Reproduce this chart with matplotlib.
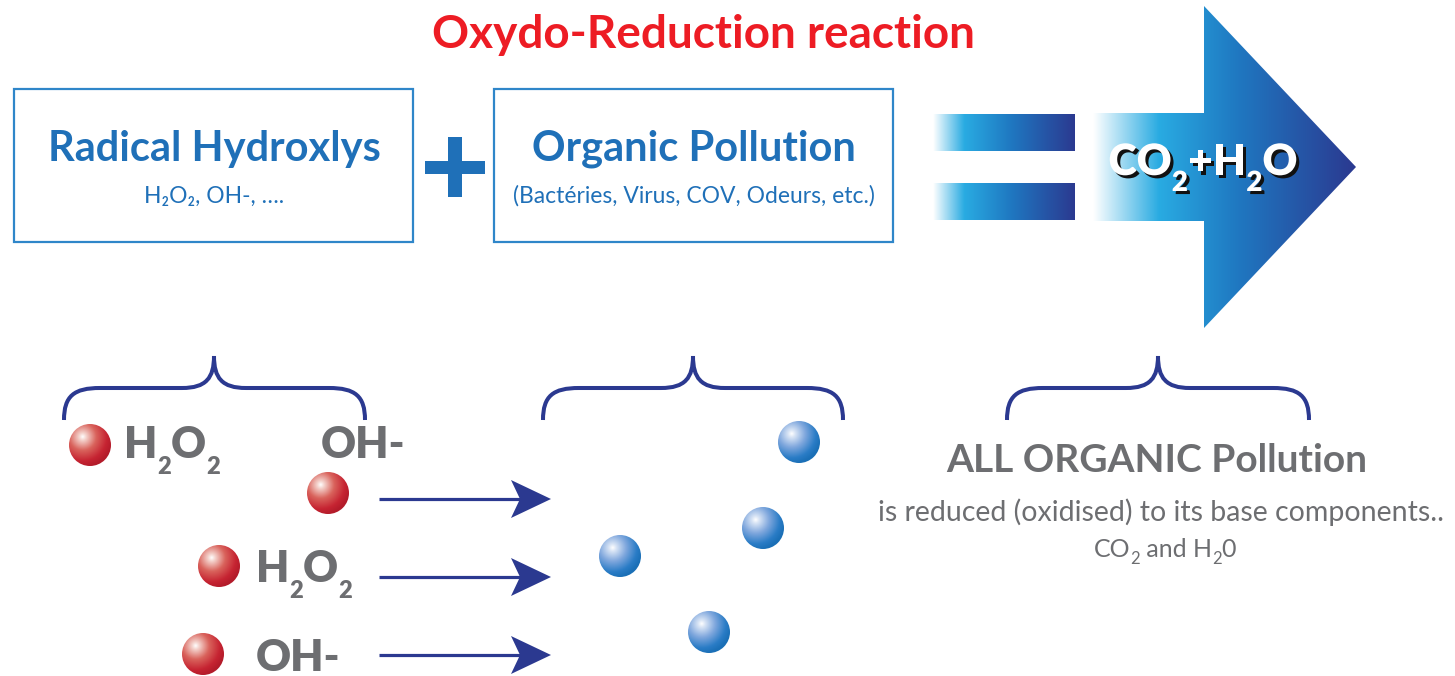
import numpy as np
import matplotlib
matplotlib.use("Agg")
import matplotlib.pyplot as plt
import matplotlib.patheffects as pe
from matplotlib.patches import Polygon, Rectangle, Circle, PathPatch
from matplotlib.path import Path
from matplotlib.colors import LinearSegmentedColormap, to_rgb

plt.rcParams['font.family'] = ['Lato', 'DejaVu Sans']

# Тексты схемы
title = "Oxydo-Reduction reaction"
box_titles = ["Radical Hydroxlys", "Organic Pollution"]
box_subtitles = ["H₂O₂, OH-, ….", "(Bactéries, Virus, COV, Odeurs, etc.)"]
product = [("CO", 0), ("2", 1), ("+H", 0), ("2", 1), ("O", 0)]
h2o2 = [("H", 0), ("2", 1), ("O", 0), ("2", 1)]
oh = [("OH-", 0)]
result_title = "ALL ORGANIC Pollution"
result_line = "is reduced (oxidised) to its base components.."
result_formula = [("CO", 0), ("2", 1), (" and H", 0), ("2", 1), ("0", 0)]

# Молекулы (центры шариков)
red_spheres = [(90, 445), (328, 493), (219, 566), (203, 654)]
blue_spheres = [(799, 442), (763, 528), (620, 556), (709, 632)]
arrow_rows = [499, 577, 655]
brace_spans = [(64, 214, 365), (543, 693, 843), (1007, 1158, 1309)]

RED = "#ED1C24"
BLUE = "#1F70B8"
BOX_EDGE = "#2F86C9"
NAVY = "#2B3990"
GRAY = "#6D6E71"

fig = plt.figure(figsize=(14.55, 6.76), dpi=100)
ax = fig.add_axes([0, 0, 1, 1])
ax.set_xlim(0, 1455)
ax.set_ylim(676, 0)
ax.axis('off')
renderer = fig.canvas.get_renderer()


def chem_text(x, y, parts, size, sub_size, drop, color, weight='bold', ha='left', effects=None):
    """Текст с подстрочными индексами, y - базовая линия"""
    items = []
    total = 0
    for s, sub in parts:
        t = ax.text(0, y + (drop if sub else 0), s, fontsize=sub_size if sub else size,
                    color=color, fontweight=weight, va='baseline', ha='left', zorder=4)
        if effects:
            t.set_path_effects(effects)
        w = t.get_window_extent(renderer).width
        items.append((t, w))
        total += w
    x0 = x - total / 2 if ha == 'center' else x
    for t, w in items:
        t.set_x(x0)
        x0 += w
    return total


def gradient_shape(verts, x0, x1, stops):
    poly = Polygon(verts, closed=True, facecolor='none', edgecolor='none')
    ax.add_patch(poly)
    cmap = LinearSegmentedColormap.from_list('g', stops)
    ys = [v[1] for v in verts]
    g = np.linspace(0, 1, 512).reshape(1, -1)
    im = ax.imshow(g, cmap=cmap, extent=(x0, x1, max(ys), min(ys)), aspect='auto',
                   interpolation='bilinear', zorder=2)
    im.set_clip_path(poly)


def sphere(cx, cy, r, stops):
    n = 120
    yy, xx = np.mgrid[-1:1:n * 1j, -1:1:n * 1j]
    d = np.hypot(xx + 0.35, yy + 0.4) / 1.45
    d = np.clip(d, 0, 1)
    pos = np.array([p for p, _ in stops])
    cols = np.array([to_rgb(c) for _, c in stops])
    img = np.stack([np.interp(d, pos, cols[:, k]) for k in range(3)], axis=-1)
    im = ax.imshow(img, extent=(cx - r, cx + r, cy + r, cy - r), origin='upper',
                   interpolation='bilinear', zorder=3)
    circ = Circle((cx, cy), r, transform=ax.transData, facecolor='none', edgecolor='none')
    ax.add_patch(circ)
    im.set_clip_path(circ)


def brace(x0, xc, x1, y_end=420, y_bar=388, y_tip=356):
    verts = [(x0, y_end), (x0, y_bar + 8), (x0 + 10, y_bar), (x0 + 36, y_bar),
             (xc - 32, y_bar), (xc - 8, y_bar), (xc, y_bar - 10), (xc, y_tip),
             (xc, y_bar - 10), (xc + 8, y_bar), (xc + 32, y_bar),
             (x1 - 36, y_bar), (x1 - 10, y_bar), (x1, y_bar + 8), (x1, y_end)]
    codes = [Path.MOVETO, Path.CURVE4, Path.CURVE4, Path.CURVE4,
             Path.LINETO, Path.CURVE4, Path.CURVE4, Path.CURVE4,
             Path.CURVE4, Path.CURVE4, Path.CURVE4,
             Path.LINETO, Path.CURVE4, Path.CURVE4, Path.CURVE4]
    ax.add_patch(PathPatch(Path(verts, codes), facecolor='none', edgecolor=NAVY,
                           lw=2.9, capstyle='butt', zorder=3))


# Заголовок
ax.text(703, 48, title, color=RED, fontsize=33, fontweight='bold', ha='center', va='baseline')

# Рамки
for bx, tt, st in zip([14, 494], box_titles, box_subtitles):
    ax.add_patch(Rectangle((bx, 89), 399, 153, facecolor='none', edgecolor=BOX_EDGE, lw=1.6))
    ax.text(bx + 200, 161, tt, color=BLUE, fontsize=30, fontweight='bold', ha='center', va='baseline')
    ax.text(bx + 200, 203, st, color=BLUE, fontsize=16.5, ha='center', va='baseline')

# Плюс
ax.add_patch(Rectangle((425, 161), 60, 13, color=BLUE, lw=0))
ax.add_patch(Rectangle((448, 137), 14, 60, color=BLUE, lw=0))

# Знак равенства и стрелка
eq_stops = [(0, "#FFFFFF"), (0.22, "#29ABE2"), (0.55, "#1F78C1"), (1, NAVY)]
for y0, y1 in [(114, 151), (183, 220)]:
    gradient_shape([(933, y0), (1075, y0), (1075, y1), (933, y1)], 933, 1075, eq_stops)

arrow_stops = [(0, "#FFFFFF"), (0.25, "#29ABE2"), (0.55, "#1F78C1"), (1, NAVY)]
gradient_shape([(1093, 113), (1204, 113), (1204, 6), (1356, 167), (1204, 328),
                (1204, 221), (1093, 221)], 1093, 1356, arrow_stops)

shadow = [pe.SimplePatchShadow(offset=(2.2, -2.2), shadow_rgbFace='#111111', alpha=1.0), pe.Normal()]
chem_text(1203, 175, product, 31, 20, 16, "white", weight='heavy', ha='center', effects=shadow)

# Фигурные скобки
for x0, xc, x1 in brace_spans:
    brace(x0, xc, x1)

# Молекулы
red_stops = [(0, "#FFFFFF"), (0.12, "#F4D2CC"), (0.45, "#D9635C"), (0.8, "#C62432"), (1, "#B31B2A")]
blue_stops = [(0, "#FFFFFF"), (0.12, "#D8E4F5"), (0.45, "#7FA7DD"), (0.8, "#2A7CC6"), (1, "#1A6FB6")]
for cx, cy in red_spheres:
    sphere(cx, cy, 21, red_stops)
for cx, cy in blue_spheres:
    sphere(cx, cy, 21, blue_stops)

# Подписи молекул
chem_text(124, 458, h2o2, 31, 17, 16, GRAY, weight='heavy')
chem_text(321, 458, oh, 31, 17, 16, GRAY, weight='heavy')
chem_text(256, 582, h2o2, 31, 17, 16, GRAY, weight='heavy')
chem_text(256, 671, oh, 31, 17, 16, GRAY, weight='heavy')

# Стрелки реакции
for y in arrow_rows:
    ax.plot([379, 522], [y, y], color=NAVY, lw=2.3, solid_capstyle='butt', zorder=3)
    ax.add_patch(Polygon([(551, y), (511, y - 19), (520, y), (511, y + 19)],
                         closed=True, facecolor=NAVY, edgecolor='none', zorder=3))

# Итог
ax.text(1157, 472, result_title, color=GRAY, fontsize=28, fontweight='bold', ha='center', va='baseline')
ax.text(1161, 521, result_line, color=GRAY, fontsize=20.5, ha='center', va='baseline')
chem_text(1165, 557, result_formula, 18, 12, 7, GRAY, weight='normal', ha='center')

fig.savefig("out.png", dpi=100)
